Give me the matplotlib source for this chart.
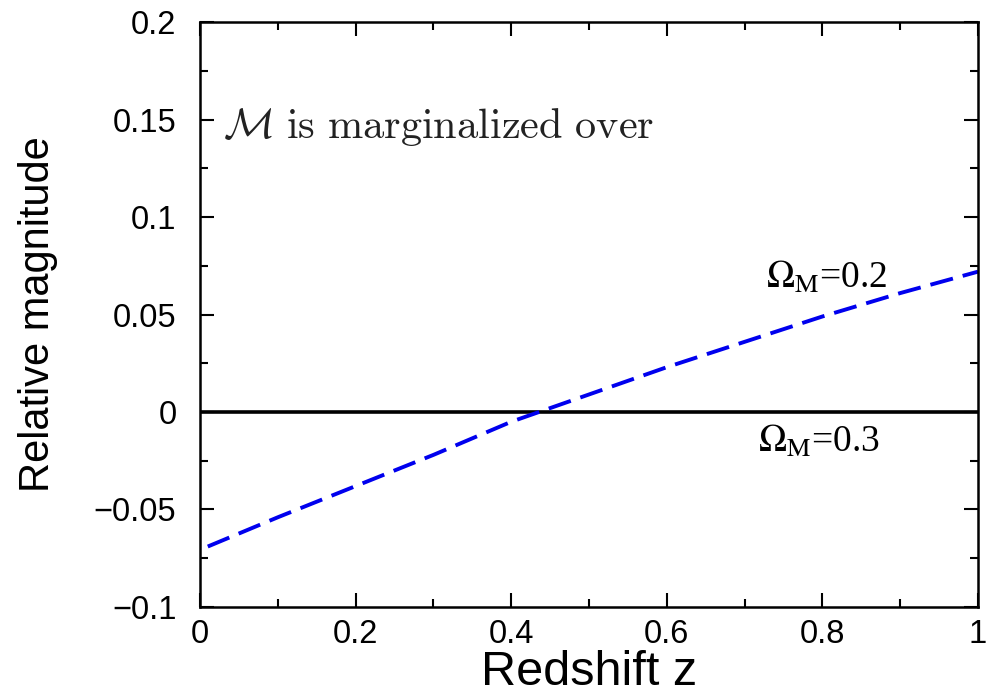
import matplotlib
matplotlib.use("Agg")
import matplotlib.pyplot as plt
from matplotlib.ticker import MultipleLocator

# Relative magnitude vs redshift
z = [0.01, 0.1, 0.2, 0.3, 0.4, 0.5, 0.6, 0.7, 0.8, 0.9, 1.0]
dm_02 = [-0.069, -0.054, -0.038, -0.022, -0.005, 0.009, 0.023, 0.036, 0.049, 0.061, 0.072]
z_ref = [0.0, 1.0]
dm_03 = [0.0, 0.0]

xticks = [0, 0.2, 0.4, 0.6, 0.8, 1]
xticklabels = ["0", "0.2", "0.4", "0.6", "0.8", "1"]
yticks = [-0.1, -0.05, 0, 0.05, 0.1, 0.15, 0.2]
yticklabels = ["\u22120.1", "\u22120.05", "0", "0.05", "0.1", "0.15", "0.2"]

plt.rcParams["font.family"] = ["Liberation Sans", "DejaVu Sans"]

fig = plt.figure(figsize=(9.95, 6.94), dpi=100)
ax = fig.add_axes([0.201, 0.1254, 0.782, 0.8428])

ax.plot(z_ref, dm_03, color="black", linewidth=2.6)
ax.plot(z, dm_02, color="#0000ee", linewidth=2.8, dashes=(6, 2.6))

ax.set_xlim(0, 1)
ax.set_ylim(-0.1, 0.2)
ax.set_xticks(xticks)
ax.set_xticklabels(xticklabels)
ax.set_yticks(yticks)
ax.set_yticklabels(yticklabels)
ax.xaxis.set_minor_locator(MultipleLocator(0.1))
ax.yaxis.set_minor_locator(MultipleLocator(0.025))
ax.tick_params(which="both", direction="in", top=True, right=True,
               width=1.5, labelsize=23.5)
ax.tick_params(axis="x", which="both", pad=9)
ax.tick_params(axis="y", which="both", pad=17)
ax.tick_params(which="major", length=10)
ax.tick_params(which="minor", length=6)
for s in ax.spines.values():
    s.set_linewidth(1.8)

ax.set_xlabel("Redshift z", fontsize=35, labelpad=0)
ax.set_ylabel("Relative magnitude", fontsize=30, labelpad=26)

ax.text(0.03, 0.802, r"$\mathcal{M}\ \mathrm{is\ marginalized\ over}$",
        transform=ax.transAxes, fontsize=30.5, math_fontfamily="cm",
        ha="left", va="baseline", color="#222222")
ax.text(0.805, 0.0636, r"$\Omega_{\mathrm{M}}$=0.2", fontsize=27,
        family="Liberation Serif", math_fontfamily="stix",
        ha="center", va="baseline")
ax.text(0.795, -0.0205, r"$\Omega_{\mathrm{M}}$=0.3", fontsize=27,
        family="Liberation Serif", math_fontfamily="stix",
        ha="center", va="baseline")

fig.savefig("out.png", dpi=100)
